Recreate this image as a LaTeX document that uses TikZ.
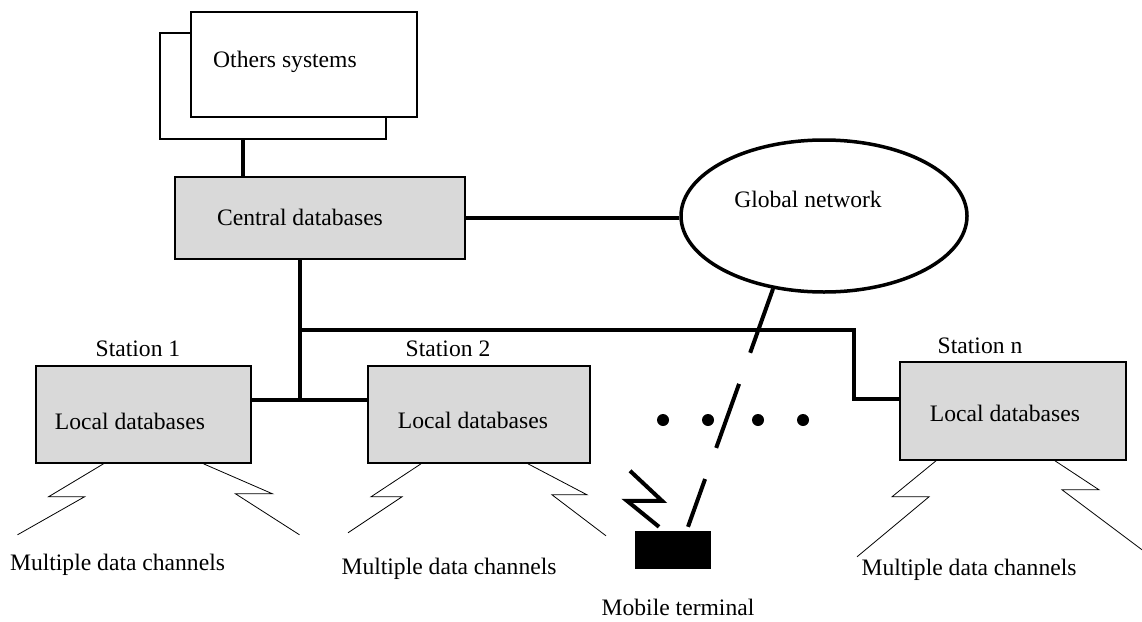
\documentclass[tikz,border=0pt]{standalone}
\usepackage{fontspec}
\setmainfont{Liberation Serif}
\usetikzlibrary{shapes.geometric,calc}
\begin{document}
\begin{tikzpicture}[x=1pt,y=-1pt,
  lbl/.style={inner sep=0pt,font=\fontsize{23.6}{28}\selectfont},
  box/.style={draw,line width=1.6pt,inner sep=0pt},
  dbbox/.style={box,fill=gray!30},
  wbox/.style={box,fill=white},
  conn/.style={line width=4pt},
  bolt/.style={line width=0.8pt},
  dashline/.style={line width=4pt,dash pattern=on 68pt off 33pt},
  dotn/.style={circle,fill=black,inner sep=0pt,minimum size=12pt}]
\useasboundingbox (0,0) rectangle (1142,621);

% Others systems
\node[wbox,minimum width=226pt,minimum height=106pt] (osys2) at (273,86) {};
\node[wbox,minimum width=226pt,minimum height=105pt] (osys1) at (304,64.5) {};
\node[lbl,anchor=west] (osyst) at (213,61.5) {Others systems};

% Central databases
\node[dbbox,minimum width=290pt,minimum height=82pt] (cdb) at (320,218) {};
\node[lbl] (cdbt) at (300,217.5) {Central databases};

% Global network
\node[ellipse,draw,line width=3.5pt,minimum width=286pt,minimum height=152pt,inner sep=0pt] (gnet) at (824,216) {};
\node[lbl] (gnett) at (808,199) {Global network};

% Local databases
\node[dbbox,minimum width=215pt,minimum height=97pt] (ld1) at (143.5,414.5) {};
\node[lbl] (ld1t) at (130,421) {Local databases};
\node[lbl] (st1) at (138,349) {Station 1};

\node[dbbox,minimum width=222pt,minimum height=97pt] (ld2) at (479,414.5) {};
\node[lbl] (ld2t) at (473,420.5) {Local databases};
\node[lbl] (st2) at (448,349) {Station 2};

\node[dbbox,minimum width=226pt,minimum height=98pt] (ldn) at (1013,411) {};
\node[lbl] (ldnt) at (1005,413.5) {Local databases};
\node[lbl] (stn) at (980,345.5) {Station n};

% channel labels
\node[lbl] (mdc1) at (117.5,565) {Multiple data channels};
\node[lbl] (mdc2) at (449,569) {Multiple data channels};
\node[lbl] (mdcn) at (969,569.5) {Multiple data channels};

% Mobile terminal
\node[fill=black,minimum width=76pt,minimum height=38pt,inner sep=0pt] (term) at (673,550) {};
\node[lbl] (termt) at (678,607.5) {Mobile terminal};

% dots
\node[dotn] (d1) at (663,420) {};
\node[dotn] (d2) at (708,420) {};
\node[dotn] (d3) at (758,420) {};
\node[dotn] (d4) at (803,420) {};

% connectors
\coordinate (busL) at (300,400);
\coordinate (j1) at (300,330);
\coordinate (j2) at (854,330);
\coordinate (j3) at (854,399);
\coordinate (osx) at (243,0);

\draw[conn] (osys2.south -| osx) -- (cdb.north -| osx);
\draw[conn] (cdb.east) -- (cdb.east -| gnet.west);
\draw[conn] (cdb.south -| busL) -- (busL);
\draw[conn] (ld1.east |- busL) -- (ld2.west |- busL);
\draw[conn] (j1) -- (j2) -- (j3) -- (ldn.west |- j3);

% wireless link
\draw[dashline] (gnet.235) -- ([shift={(15,-4)}]term.north);
\draw[conn,line join=miter] ([shift={(-14,-4)}]term.north) -- ++(-32,-26) -- ++(35,0) -- ++(-32,-30);

% bolts
\draw[bolt] ([xshift=-40pt]ld1.south) -- ++(-55,33) -- ++(36,0) -- ++(-67,38);
\draw[bolt] ([xshift=60pt]ld1.south) -- ++(69,30) -- ++(-37,0) -- ++(64,41);
\draw[bolt] ([xshift=-58pt]ld2.south) -- ++(-50,33) -- ++(31,0) -- ++(-54,36);
\draw[bolt] ([xshift=49pt]ld2.south) -- ++(59,31) -- ++(-35,0) -- ++(54,41);
\draw[bolt] ([xshift=-77pt]ldn.south) -- ++(-44,36) -- ++(37,0) -- ++(-72,60);
\draw[bolt] ([xshift=42pt]ldn.south) -- ++(44,29) -- ++(-37,0) -- ++(80,60);
\end{tikzpicture}
\end{document}
